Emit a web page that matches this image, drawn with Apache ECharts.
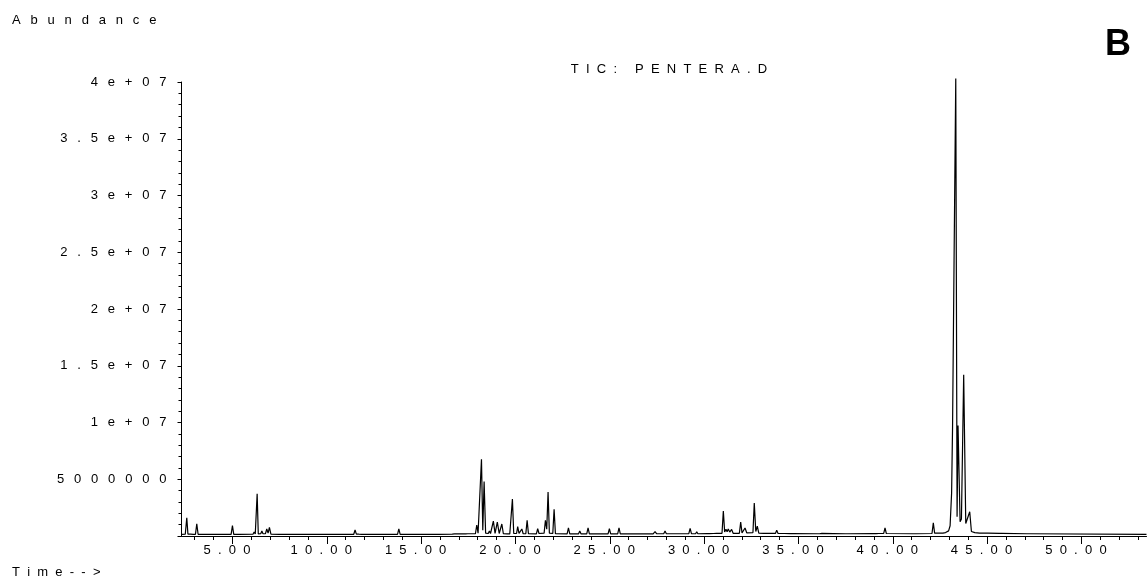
<!DOCTYPE html>
<html>
<head>
<meta charset="utf-8">
<title>TIC: PENTERA.D</title>
<script src="https://cdn.jsdelivr.net/npm/echarts@6/dist/echarts.min.js"></script>
<style>
  html, body { margin: 0; padding: 0; background: #fff; }
  #chart { width: 1148px; height: 582px; }
</style>
</head>
<body>
<div id="chart"></div>
<script>
// Total ion chromatogram, retention time in minutes vs. abundance (counts).
// Each segment lists [minutes, abundance] points in time order.
const segment0to10 = [
  [2.30, 150000], [2.50, 160000], [2.58, 1610000], [2.64, 170000],
  [2.78, 160000], [2.85, 240000], [2.92, 150000],
  [3.04, 150000], [3.11, 1080000], [3.18, 150000],
  [3.70, 150000], [3.78, 220000], [3.86, 150000],
  [4.40, 150000], [4.47, 200000], [4.54, 150000],
  [4.93, 150000], [5.00, 910000], [5.07, 150000],
  [5.24, 150000], [5.30, 220000], [5.36, 150000],
  [6.09, 160000], [6.15, 350000], [6.21, 170000], [6.26, 180000], [6.31, 3730000], [6.37, 180000],
  [6.50, 200000], [6.56, 440000], [6.62, 200000], [6.68, 290000], [6.75, 210000],
  [6.82, 620000], [6.89, 250000], [6.96, 770000], [7.04, 160000],
  [7.47, 150000], [7.53, 220000], [7.59, 150000],
  [8.09, 150000], [8.15, 200000], [8.21, 150000],
  [8.70, 150000], [8.76, 200000], [8.82, 150000],
  [9.40, 150000], [9.46, 190000], [9.52, 150000]
];

const segment10to20 = [
  [10.16, 150000], [10.23, 260000], [10.30, 150000],
  [11.43, 150000], [11.50, 530000], [11.57, 170000], [11.70, 160000], [11.77, 260000], [11.84, 150000],
  [12.33, 150000], [12.39, 200000], [12.45, 150000],
  [12.94, 150000], [13.00, 200000], [13.06, 150000],
  [13.75, 150000], [13.82, 620000], [13.89, 150000],
  [14.68, 150000], [14.74, 180000], [14.80, 150000],
  [15.76, 150000], [15.83, 260000], [15.90, 150000],
  [16.65, 170000], [16.71, 220000], [16.77, 180000],
  [17.10, 180000], [17.16, 200000], [17.22, 180000],
  [17.36, 190000], [17.42, 250000], [17.48, 200000],
  [17.88, 200000], [17.95, 970000], [18.02, 250000],
  [18.20, 6760000], [18.27, 500000], [18.34, 4790000], [18.42, 250000],
  [18.56, 220000], [18.62, 440000], [18.68, 220000],
  [18.76, 250000], [18.83, 1320000], [18.92, 230000],
  [19.04, 1230000], [19.14, 220000], [19.28, 1060000], [19.36, 200000],
  [19.57, 180000], [19.63, 250000], [19.70, 180000],
  [19.78, 190000], [19.84, 3260000], [19.91, 230000]
];

const segment20to30 = [
  [20.06, 220000], [20.12, 820000], [20.19, 230000],
  [20.28, 220000], [20.34, 620000], [20.41, 200000],
  [20.55, 200000], [20.62, 1380000], [20.69, 200000],
  [21.11, 190000], [21.18, 640000], [21.25, 220000],
  [21.52, 250000], [21.59, 1380000], [21.66, 600000], [21.73, 3880000], [21.80, 250000],
  [21.98, 220000], [22.05, 2350000], [22.12, 200000],
  [22.74, 190000], [22.81, 710000], [22.88, 190000],
  [23.10, 180000], [23.16, 250000], [23.22, 180000],
  [23.34, 180000], [23.41, 440000], [23.48, 180000],
  [23.78, 180000], [23.85, 710000], [23.92, 180000],
  [24.32, 180000], [24.38, 290000], [24.44, 180000],
  [24.91, 190000], [24.98, 640000], [25.05, 190000],
  [25.42, 190000], [25.49, 710000], [25.56, 190000],
  [25.93, 180000], [25.99, 260000], [26.05, 180000],
  [26.46, 180000], [26.52, 200000], [26.58, 180000],
  [27.30, 190000], [27.40, 380000], [27.48, 200000],
  [27.86, 200000], [27.93, 440000], [28.00, 200000],
  [28.45, 200000], [28.55, 350000], [28.63, 200000],
  [29.19, 200000], [29.26, 680000], [29.33, 200000],
  [29.55, 200000], [29.61, 380000], [29.67, 200000]
];

const segment30to40 = [
  [30.16, 210000], [30.22, 250000], [30.28, 210000],
  [30.50, 220000], [30.58, 350000], [30.66, 230000],
  [30.95, 240000], [31.02, 2200000], [31.09, 350000], [31.16, 600000], [31.22, 380000],
  [31.28, 620000], [31.36, 350000], [31.46, 580000], [31.54, 240000],
  [31.87, 240000], [31.94, 1230000], [32.01, 280000], [32.10, 300000], [32.17, 710000], [32.26, 280000],
  [32.59, 300000], [32.66, 2910000], [32.74, 400000], [32.82, 860000], [32.90, 250000],
  [33.16, 230000], [33.23, 280000], [33.30, 230000],
  [33.78, 230000], [33.85, 500000], [33.92, 230000],
  [34.14, 220000], [34.20, 260000], [34.26, 220000],
  [34.58, 210000], [34.64, 250000], [34.70, 210000],
  [36.00, 200000], [36.06, 240000], [36.12, 200000], [36.18, 200000], [36.24, 230000], [36.30, 200000],
  [37.50, 200000], [37.56, 250000], [37.62, 200000],
  [39.00, 210000], [39.06, 230000], [39.12, 210000],
  [39.26, 220000], [39.32, 300000], [39.38, 220000],
  [39.52, 230000], [39.59, 710000], [39.66, 220000]
];

const segment40to54 = [
  [41.12, 200000], [41.18, 250000], [41.24, 200000],
  [42.08, 220000], [42.15, 1150000], [42.22, 250000],
  [42.36, 250000], [42.42, 380000], [42.48, 250000],
  [42.66, 260000], [42.72, 400000], [42.80, 300000],
  [42.88, 300000], [42.96, 450000], [43.04, 900000], [43.12, 3800000], [43.17, 9600000],
  [43.25, 24300000], [43.34, 40300000], [43.41, 1700000], [43.46, 9730000], [43.57, 1260000],
  [43.64, 1500000], [43.76, 14200000], [43.87, 1100000], [44.08, 2140000], [44.17, 400000],
  [44.35, 300000], [44.60, 260000],
  [44.92, 250000], [44.98, 380000], [45.04, 250000],
  [45.64, 230000], [45.70, 270000], [45.76, 230000],
  [47.12, 200000], [47.18, 300000], [47.24, 200000],
  [53.45, 150000]
];

// Axis ticks and labels
const xMinorTicks = [3, 4, 5, 6, 7, 8, 9, 10, 11, 12, 13, 14, 15, 16, 17, 18, 19, 20, 21, 22, 23, 24, 25,
  26, 27, 28, 29, 30, 31, 32, 33, 34, 35, 36, 37, 38, 39, 40, 41, 42, 43, 44, 45, 46, 47, 48, 49, 50, 51, 52, 53];
const xMajorTicks = [5, 10, 15, 20, 25, 30, 35, 40, 45, 50];
const xTickLabels = ['5.00', '10.00', '15.00', '20.00', '25.00', '30.00', '35.00', '40.00', '45.00', '50.00'];
const yTickLabels = ['', '5000000', '1e+07', '1.5e+07', '2e+07', '2.5e+07', '3e+07', '3.5e+07', '4e+07'];
const yStep = 5000000;

const FONT = '"Liberation Sans", Arial, Helvetica, sans-serif';
const wideSep = '  \u2009';
const narrowSep = '  ';
function spaced(text, sep) { return text.split('').join(sep); }

const chromatogram = [].concat(segment0to10, segment10to20, segment20to30, segment30to40, segment40to54);

const chart = echarts.init(document.getElementById('chart'), null, { renderer: 'canvas' });

const xBase = {
  type: 'value',
  min: 2.3,
  max: 53.45,
  gridIndex: 0,
  position: 'bottom',
  splitLine: { show: false }
};

chart.setOption({
  animation: false,
  backgroundColor: '#ffffff',
  grid: { left: 181.5, right: 1.5, top: 82, bottom: 46, containLabel: false },
  xAxis: [
    Object.assign({}, xBase, {
      axisLine: { show: true, lineStyle: { color: '#000', width: 1 } },
      axisTick: { show: true, customValues: xMinorTicks, length: 4, lineStyle: { color: '#000' } },
      axisLabel: { show: false }
    }),
    Object.assign({}, xBase, {
      axisLine: { show: false },
      axisTick: { show: true, customValues: xMajorTicks, length: 8, lineStyle: { color: '#000' } },
      axisLabel: {
        show: true,
        customValues: xMajorTicks,
        margin: 8,
        padding: [0, 11, 0, 0],
        color: '#000',
        fontFamily: FONT,
        fontSize: 13,
        formatter: function (v) {
          const i = xMajorTicks.indexOf(Math.round(v));
          return i >= 0 ? spaced(xTickLabels[i], narrowSep) : '';
        }
      }
    })
  ],
  yAxis: {
    type: 'value',
    min: 0,
    max: 40000000,
    interval: yStep,
    splitLine: { show: false },
    axisLine: { show: true, lineStyle: { color: '#000', width: 1 } },
    axisTick: { show: true, length: 4, lineStyle: { color: '#000' } },
    minorTick: { show: true, splitNumber: 5, length: 3, lineStyle: { color: '#000' } },
    axisLabel: {
      margin: 15,
      color: '#000',
      fontFamily: FONT,
      fontSize: 13,
      formatter: function (v) {
        const label = yTickLabels[Math.round(v / yStep)] || '';
        return spaced(label, wideSep);
      }
    }
  },
  series: [{
    name: 'TIC',
    type: 'line',
    xAxisIndex: 0,
    yAxisIndex: 0,
    data: chromatogram,
    showSymbol: false,
    symbol: 'none',
    clip: false,
    lineStyle: { color: '#000', width: 1.2 }
  }],
  graphic: [
    {
      type: 'text', left: 12, top: 14,
      style: { text: spaced('Abundance', wideSep), font: '13px ' + FONT, fill: '#000' }
    },
    {
      type: 'text', x: 669, y: 69,
      style: {
        text: spaced('TIC: PENTERA.D', narrowSep), font: '13px ' + FONT, fill: '#000',
        align: 'center', verticalAlign: 'middle', textAlign: 'center', textVerticalAlign: 'middle'
      }
    },
    {
      type: 'text', left: 12, top: 566,
      style: { text: spaced('Time-->', narrowSep), font: '13px ' + FONT, fill: '#000' }
    },
    {
      type: 'text', left: 1105, top: 27,
      style: { text: 'B', font: 'bold 36px ' + FONT, fill: '#000' }
    }
  ]
});
</script>
</body>
</html>
